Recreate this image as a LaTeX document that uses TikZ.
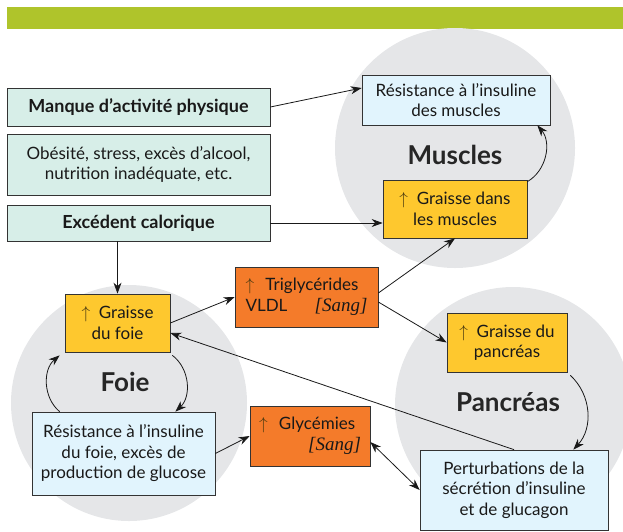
\documentclass[tikz,border=0pt]{standalone}
\usepackage{fontspec}
\setmainfont{Lato}
\newfontfamily\sangfont{Liberation Serif}
\usetikzlibrary{arrows.meta}

\definecolor{barre}{HTML}{AFC42B}
\definecolor{menthe}{HTML}{D7EEE8}
\definecolor{bleupale}{HTML}{E1F4FD}
\definecolor{jaune}{HTML}{FEC82E}
\definecolor{orange}{HTML}{F47B2A}
\definecolor{organe}{HTML}{E5E6E8}
\definecolor{fleche}{HTML}{4A3A10}

\newcommand{\hausse}{\textcolor{fleche}{$\uparrow$}\ \ }
\newcommand{\sang}{{\sangfont\itshape\fontsize{19}{20.5}\selectfont [Sang]}}

\begin{document}
\begin{tikzpicture}[x=1pt,y=-1pt,line width=.8pt,
    box/.style={draw=black!80,line width=.7pt,inner sep=2pt,align=center,
      font=\fontsize{17}{20.5}\selectfont,text=black!90},
    cause/.style={box,fill=menthe,minimum width=263},
    etat/.style={box,fill=bleupale},
    gras/.style={box,fill=jaune},
    sangbox/.style={box,fill=orange},
    cercle/.style={circle,fill=organe,inner sep=0pt},
    titre/.style={font=\fontsize{26}{30}\selectfont\bfseries,text=black!85},
    link/.style={-{Stealth[length=11pt,width=8pt,inset=3.5pt]},black!90}]
  \useasboundingbox (0,0) rectangle (623,531);
  \fill[barre] (7,7) rectangle (623,29);

  % organes
  \node[cercle,minimum size=240] (cmus) at (455,148) {};
  \node[cercle,minimum size=236] (cfoie) at (129,403) {};
  \node[cercle,minimum size=236] (cpanc) at (513,405) {};
  \node[titre] (tmus) at (455,155) {Muscles};
  \node[titre] (tfoie) at (125,382) {Foie};
  \node[titre] (tpanc) at (508,402) {Pancréas};

  % causes
  \node[cause,minimum height=38,font=\fontsize{18}{21}\selectfont\bfseries]
    (manque) at (138.5,107) {Manque d’activité physique};
  \node[cause,minimum height=61]
    (obes) at (138.5,164.5) {Obésité, stress, excès d’alcool,\\nutrition inadéquate, etc.};
  \node[cause,minimum height=36,font=\fontsize{18}{21}\selectfont\bfseries]
    (exced) at (138.5,223) {Excédent calorique};

  % boites
  \node[etat,minimum width=188,minimum height=50]
    (resmus) at (456,100) {Résistance à l’insuline\\des muscles};
  \node[gras,minimum width=144,minimum height=58]
    (grmus) at (455,209) {\hausse Graisse dans\\les muscles};
  \node[gras,minimum width=105,minimum height=58]
    (grfoie) at (117.5,323) {\hausse Graisse\\du foie};
  \node[etat,minimum width=183,minimum height=83]
    (resfoie) at (123.5,453.5) {Résistance à l’insuline\\du foie, excès de\\production de glucose};
  \node[sangbox,minimum width=143,minimum height=60,text width=122,align=left]
    (trig) at (306.5,297) {\hausse Triglycérides\\VLDL\hfill\sang};
  \node[sangbox,minimum width=120,minimum height=60,text width=102,align=left]
    (glyc) at (310,436) {\hausse Glycémies\\\mbox{}\hfill\sang};
  \node[gras,minimum width=120,minimum height=59]
    (grpanc) at (507,342.5) {\hausse Graisse du\\pancréas};
  \node[etat,minimum width=188,minimum height=80]
    (pert) at (514,490) {Perturbations de la\\sécrétion d’insuline\\et de glucagon};

  % liens
  \draw[link] (manque.east) -- ([yshift=12]resmus.west);
  \draw[link] (exced.east) -- (exced.east -| grmus.west);
  \draw[link] (grfoie.north |- exced.south) -- (grfoie.north);
  \draw[link] (grfoie.east) -- (trig.west);
  \draw[link] ([yshift=4]trig.east) -- (grmus.south);
  \draw[link] ([yshift=-5]trig.east) -- (grpanc.west);
  \draw[link] (pert.north) -- ([yshift=-10]grfoie.east);
  \draw[link] (resfoie.east) -- (glyc.west);
  \draw[link,{Stealth[length=11pt,width=8pt,inset=3.5pt]}-{Stealth[length=11pt,width=8pt,inset=3.5pt]}]
    ([yshift=-6]glyc.east) -- (pert.west);

  % boucles
  \draw[link] ([yshift=-2]grmus.north east) to[bend right=50] ([xshift=-13]resmus.south east);
  \draw[link] ([xshift=2,yshift=-3]grfoie.south east) to[bend left=50] ([xshift=-40]resfoie.north east);
  \draw[link] ([xshift=28]resfoie.north west) to[bend left=50] ([xshift=-5,yshift=-3]grfoie.south west);
  \draw[link] ([xshift=3,yshift=-3]grpanc.south east) to[bend left=45] ([xshift=-35]pert.north east);
\end{tikzpicture}
\end{document}
